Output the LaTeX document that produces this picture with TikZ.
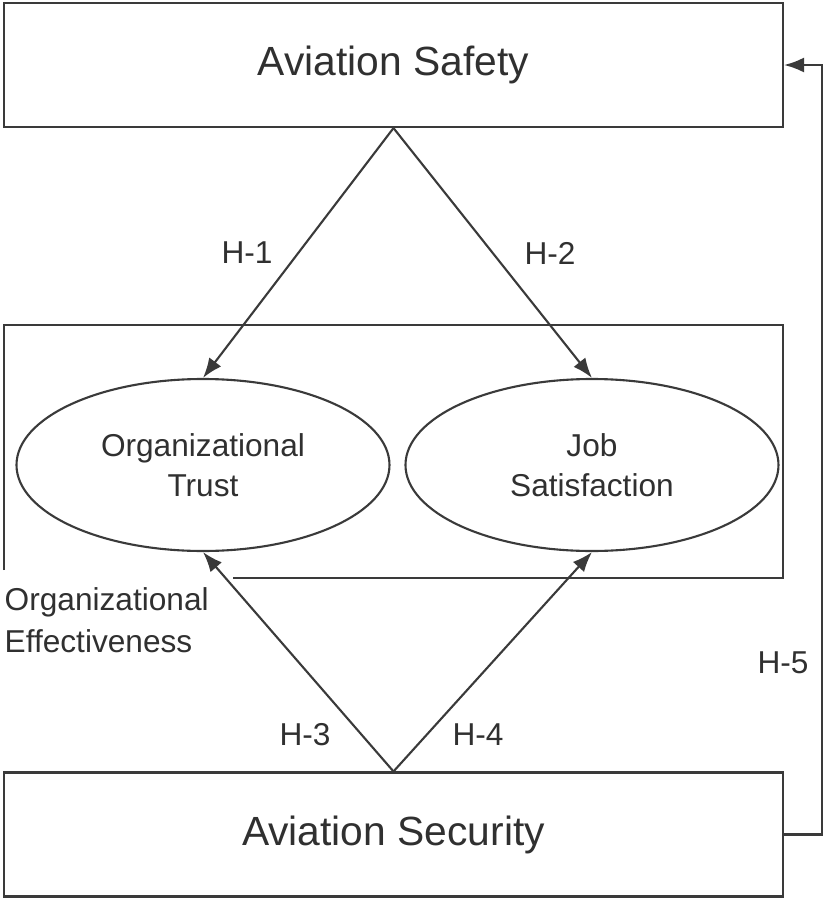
\documentclass[tikz,border=0pt]{standalone}
\usepackage{fontspec}
\setmainfont{Liberation Sans}
\usetikzlibrary{arrows.meta,shapes.geometric}
\definecolor{linie}{HTML}{3A3A3A}
\definecolor{schrift}{HTML}{303030}
\tikzset{
  kasten/.style={draw=linie,line width=0.6pt,minimum width=7.79cm,minimum height=1.24cm,inner sep=0pt,text=schrift,font=\fontsize{11.6}{14}\selectfont},
  oval/.style={ellipse,draw=linie,line width=0.6pt,minimum width=3.73cm,minimum height=1.72cm,inner sep=0pt,align=center,text=schrift,font=\fontsize{9}{11.4}\selectfont},
  pfeil/.style={-{Latex[length=2mm,width=1.5mm]},linie,line width=0.6pt},
  hyp/.style={text=schrift,font=\fontsize{9}{11}\selectfont},
}

\begin{document}
\begin{tikzpicture}
  \useasboundingbox (0,0) rectangle (8.27,9.02);
  % Kaesten oben und unten
  \node[kasten] (safety) at (3.935,8.37) {Aviation Safety};
  \node[kasten] (security) at (3.935,0.675) {Aviation Security};
  % Rahmen Organizational Effectiveness
  \draw[linie,line width=0.6pt] (0.04,3.32)--(0.04,5.77)--(7.83,5.77)--(7.83,3.24)--(2.33,3.24);
  \node[hyp,anchor=west,align=left,inner sep=0pt] (effect) at (0.04,2.82) {Organizational\\[1pt]Effectiveness};
  % Ellipsen
  \node[oval] (trust) at (2.03,4.37) {Organizational\\Trust};
  \node[oval] (satis) at (5.92,4.37) {Job\\Satisfaction};
  % Hypothesen
  \draw[pfeil] (safety.south)--(trust.north);
  \draw[pfeil] (safety.south)--(satis.north);
  \draw[pfeil] (security.north)--(trust.south);
  \draw[pfeil] (security.north)--(satis.south);
  \node[hyp] (h1) at (2.47,6.49) {H-1};
  \node[hyp] (h2) at (5.50,6.49) {H-2};
  \node[hyp] (h3) at (3.05,1.67) {H-3};
  \node[hyp] (h4) at (4.78,1.67) {H-4};
  % H-5 aussen herum
  \coordinate (rechts) at (8.22,0);
  \draw[pfeil] (security.east)-|(rechts|-safety.east)--(safety.east);
  \node[hyp] (h5) at (7.83,2.39) {H-5};
\end{tikzpicture}
\end{document}
